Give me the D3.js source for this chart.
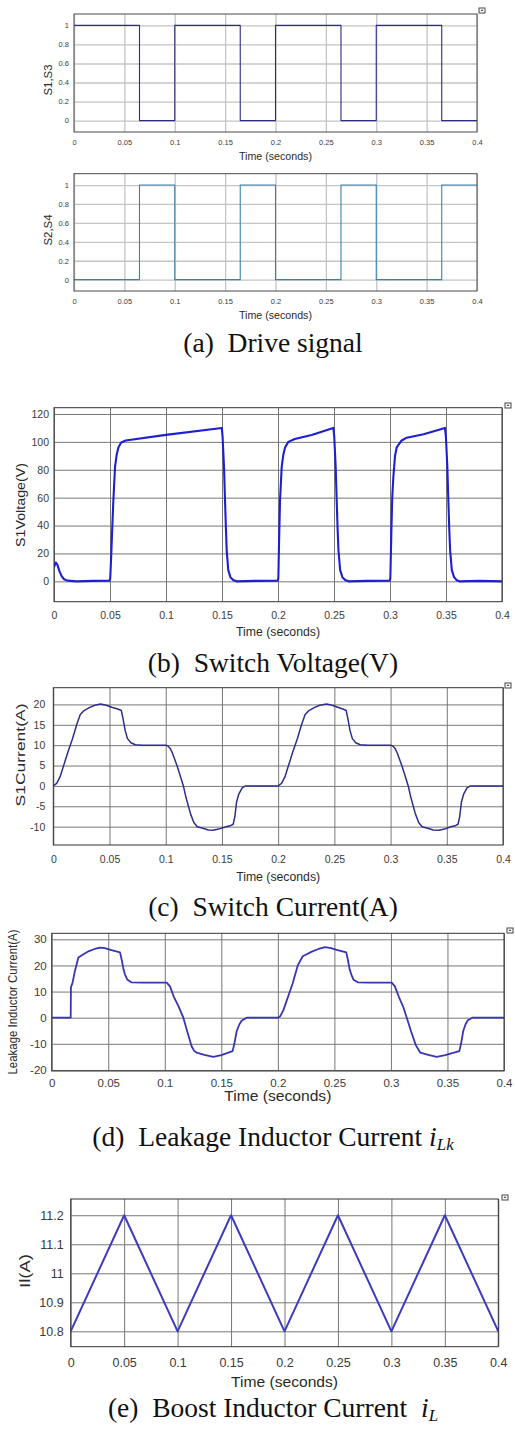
<!DOCTYPE html>
<html>
<head>
<meta charset="utf-8">
<script src="https://cdn.jsdelivr.net/npm/d3@7"></script>
<style>
  body { margin: 0; background: #fff; }
  svg { display: block; }
  .cap { font-family: "Liberation Serif", "Times New Roman", serif; white-space: pre; fill: #111; }
  .lab { font-family: "Liberation Sans", Arial, sans-serif; fill: #2a2a2a; }
</style>
</head>
<body>
<div id="chart"></div>
<script>
// ---------------------------------------------------------------
// data
// ---------------------------------------------------------------
// time axis, shared by every panel
var timeTicks = [0, 0.05, 0.1, 0.15, 0.2, 0.25, 0.3, 0.35, 0.4];

// (a) drive signals, step after each time
var driveTicks = [0, 0.2, 0.4, 0.6, 0.8, 1];
var driveT = [0, 0.065, 0.1, 0.165, 0.2, 0.265, 0.3, 0.365, 0.4];
var s13 = [1, 0, 1, 0, 1, 0, 1, 0, 0];
var s24 = [0, 1, 0, 1, 0, 1, 0, 1, 1];

// (b) switch voltage
var voltTicks = [0, 20, 40, 60, 80, 100, 120];
var voltT = [0, 0.0015, 0.003, 0.005, 0.007, 0.009, 0.012, 0.02, 0.035, 0.0495,
  0.0502, 0.051, 0.052, 0.053, 0.0545, 0.056, 0.0575, 0.06, 0.064, 0.1, 0.1498,
  0.1505, 0.1518, 0.1527, 0.1535, 0.1542, 0.1556, 0.1575, 0.16, 0.163, 0.18, 0.1997,
  0.2003, 0.201, 0.2018, 0.2033, 0.2048, 0.2063, 0.2092, 0.215, 0.23, 0.2494,
  0.2502, 0.2515, 0.2524, 0.2532, 0.254, 0.2555, 0.2575, 0.26, 0.263, 0.28, 0.2997,
  0.3003, 0.3012, 0.302, 0.303, 0.3045, 0.306, 0.3104, 0.315, 0.33, 0.3491,
  0.3499, 0.3512, 0.3521, 0.3529, 0.3537, 0.3552, 0.3572, 0.3596, 0.362, 0.38, 0.4];
var voltV = [10, 13.5, 12, 7, 3.5, 1.5, 0.5, 0, 0.3, 0.5,
  2, 17, 38, 58, 82, 91, 96, 99.5, 101, 105, 110,
  104, 82, 58, 38, 22, 8, 3, 1, 0, 0.3, 0.5,
  2, 30, 58, 82, 91, 96, 100, 102, 105, 110,
  104, 82, 58, 38, 22, 8, 3, 1, 0, 0.3, 0.5,
  2, 35, 60, 75, 90, 96, 101, 103, 105.5, 110,
  104, 82, 58, 38, 22, 8, 3, 0.8, 0, 0.3, 0];

// (c) switch current
var curTicks = [-10, -5, 0, 5, 10, 15, 20];
var curT = [0, 0.003, 0.006, 0.009, 0.013, 0.017, 0.021, 0.024, 0.027, 0.032, 0.037,
  0.042, 0.047, 0.052, 0.058, 0.0605, 0.062, 0.064, 0.066, 0.069, 0.073, 0.08, 0.1,
  0.102, 0.104, 0.106, 0.11, 0.114, 0.1157, 0.118, 0.122, 0.125, 0.128, 0.133, 0.138,
  0.142, 0.147, 0.153, 0.158, 0.16, 0.1615, 0.163, 0.165, 0.168, 0.171, 0.2,
  0.203, 0.206, 0.209, 0.213, 0.217, 0.221, 0.224, 0.227, 0.232, 0.237,
  0.243, 0.248, 0.253, 0.258, 0.2605, 0.262, 0.264, 0.266, 0.269, 0.273, 0.28, 0.3,
  0.302, 0.304, 0.306, 0.31, 0.314, 0.3157, 0.318, 0.322, 0.325, 0.328, 0.333, 0.338,
  0.343, 0.348, 0.353, 0.358, 0.36, 0.3615, 0.363, 0.365, 0.368, 0.371, 0.4];
var curV = [0, 0.6, 2.2, 4.8, 8.3, 11.5, 15.2, 17.5, 18.4, 19.2, 19.8,
  20.1, 19.8, 19.3, 18.8, 18.5, 16.5, 13.5, 11.6, 10.6, 10.1, 10, 10,
  9.8, 9.2, 8, 5, 1.5, 0, -2.8, -6.8, -9, -10, -10.4, -10.8,
  -10.9, -10.6, -10.1, -9.7, -9.4, -7.5, -4, -2, -0.5, 0, 0,
  0.6, 2.2, 4.8, 8.3, 11.5, 15.2, 17.5, 18.4, 19.2, 19.8,
  20.1, 19.8, 19.3, 18.8, 18.5, 16.5, 13.5, 11.6, 10.6, 10.1, 10, 10,
  9.8, 9.2, 8, 5, 1.5, 0, -2.8, -6.8, -9, -10, -10.4, -10.8,
  -10.9, -10.6, -10.1, -9.7, -9.4, -7.5, -4, -2, -0.5, 0, 0];

// (d) leakage inductor current
var lkTicks = [-20, -10, 0, 10, 20, 30];
var lkT = [0, 0.0168, 0.017, 0.0185, 0.0206, 0.0236, 0.028, 0.033, 0.038, 0.0427,
  0.047, 0.052, 0.0604, 0.062, 0.0635, 0.0648, 0.067, 0.0707, 0.08, 0.1017,
  0.1046, 0.108, 0.112, 0.1164, 0.12, 0.1238, 0.126, 0.1282, 0.135, 0.1429,
  0.15, 0.1555, 0.16, 0.1615, 0.1636, 0.166, 0.168, 0.1724, 0.2,
  0.202, 0.205, 0.209, 0.213, 0.2176, 0.222, 0.2255, 0.23, 0.236, 0.2417,
  0.247, 0.252, 0.2605, 0.262, 0.2635, 0.265, 0.267, 0.271, 0.28, 0.3007,
  0.3035, 0.307, 0.311, 0.314, 0.318, 0.322, 0.326, 0.333, 0.3405,
  0.348, 0.355, 0.3605, 0.362, 0.364, 0.366, 0.368, 0.372, 0.4];
var lkV = [0, 0, 11.6, 13.5, 18, 23, 24.3, 25.5, 26.3, 26.8,
  26.6, 26, 25, 22, 18.5, 16.5, 14.5, 13.5, 13.4, 13.4,
  12, 8, 4.5, 0, -5.5, -11, -12.7, -13.4, -14.2, -15,
  -14.3, -13.5, -12.8, -10, -5.2, -2.5, -1.2, 0, 0,
  0.5, 3, 8, 13, 20, 23.5, 24.3, 25.3, 26.3, 27,
  26.6, 26, 25, 22, 18.5, 16.5, 14.5, 13.5, 13.4, 13.4,
  12, 8, 4, 0, -5.5, -10.5, -13.4, -14.2, -15,
  -14.3, -13.5, -12.8, -10, -5, -2.5, -1, 0, 0];

// (e) boost inductor current
var ilTicks = [10.8, 10.9, 11, 11.1, 11.2];
var ilT = [0, 0.05, 0.1, 0.15, 0.2, 0.25, 0.3, 0.35, 0.4];
var ilV = [10.8, 11.2, 10.8, 11.2, 10.8, 11.2, 10.8, 11.2, 10.8];

// captions
var captionMain = ["(a)  Drive signal", "(b)  Switch Voltage(V)", "(c)  Switch Current(A)",
  "(d)  Leakage Inductor Current ", "(e)  Boost Inductor Current  "];
var captionSub = ["", "", "", "Lk", "L"];

// ---------------------------------------------------------------
// layout of each panel (pixels)
// ---------------------------------------------------------------
var panels = [
  { l: 74, t: 14, r: 477, b: 132, yDomain: [-0.12, 1.12], yTicks: driveTicks, xs: driveT, ys: s13, step: true,
    color: "#2c2d82", lw: 1.1, grid: "#c4c4c4", gridW: 1.3, border: "#4a4a4a",
    tick: 7.5, yPad: 5, xBase: 145,
    xLab: { size: 10.5, len: 73, base: 159.5 }, yLab: { text: "S1,S3", size: 10, len: 31, x: 48, y: 80 },
    icon: [479, 8] },
  { l: 74, t: 173.7, r: 477, b: 291, yDomain: [-0.12, 1.12], yTicks: driveTicks, xs: driveT, ys: s24, step: true,
    color: "#3a82ad", lw: 1.1, grid: "#c4c4c4", gridW: 1.3, border: "#4a4a4a",
    tick: 7.5, yPad: 5, xBase: 304,
    xLab: { size: 10.5, len: 73, base: 318.5 }, yLab: { text: "S2,S4", size: 10, len: 31, x: 48, y: 230 },
    icon: null },
  { l: 54, t: 407.7, r: 502, b: 601.7, yDomain: [-14.6, 124.5], yTicks: voltTicks, xs: voltT, ys: voltV, step: false,
    color: "#1e1ed2", lw: 2.1, grid: "#777", gridW: 1, border: "#333",
    tick: 10.5, yPad: 5, xBase: 619,
    xLab: { size: 12, len: 84, base: 636 }, yLab: { text: "S1Voltage(V)", size: 13, len: 84, x: 20, y: 505 },
    icon: [505, 403] },
  { l: 53.3, t: 687.7, r: 503, b: 845, yDomain: [-14.5, 24.1], yTicks: curTicks, xs: curT, ys: curV, step: false,
    color: "#2e2e8e", lw: 1.5, grid: "#777", gridW: 1, border: "#333",
    tick: 10.5, yPad: 8, xBase: 863,
    xLab: { size: 12, len: 84, base: 881 }, yLab: { text: "S1Current(A)", size: 12.5, len: 103, x: 21, y: 755 },
    icon: [505, 683] },
  { l: 51.7, t: 933.3, r: 504, b: 1071, yDomain: [-20.4, 32.3], yTicks: lkTicks, xs: lkT, ys: lkV, step: false,
    color: "#3535b6", lw: 1.8, grid: "#777", gridW: 1, border: "#333",
    tick: 11.5, yPad: 5, xBase: 1086.5,
    xLab: { size: 14, len: 107, base: 1101 }, yLab: { text: "Leakage Inductor Current(A)", size: 12, len: 145, x: 13, y: 1002 },
    icon: [507, 928] },
  { l: 70.7, t: 1199, r: 498.3, b: 1346.7, yDomain: [10.747, 11.256], yTicks: ilTicks, xs: ilT, ys: ilV, step: false,
    color: "#3b3bc4", lw: 2, grid: "#777", gridW: 1, border: "#333",
    tick: 12.5, yPad: 7, xBase: 1367,
    xLab: { size: 15.5, len: 107, base: 1387 }, yLab: { text: "Il(A)", size: 15, len: 34, x: 25, y: 1271 },
    icon: [502, 1195] }
];

var captionPos = [352, 672, 916, 1146, 1417];

var svgWidth = 515;
var svgHeight = 1429;

var svg = d3.select("#chart")
  .append("svg")
  .attr("width", svgWidth)
  .attr("height", svgHeight);

function drawPanel(p, i) {
  var x = d3.scaleLinear().domain([0, 0.4]).range([p.l, p.r]);
  var y = d3.scaleLinear().domain(p.yDomain).range([p.b, p.t]);
  var g = svg.append("g");

  // vertical grid lines + time labels
  var xAxis = g.append("g")
    .attr("transform", `translate(0,${p.b})`)
    .call(d3.axisBottom(x).tickValues(timeTicks).tickSize(-(p.b - p.t)).tickFormat(d => String(d)));
  xAxis.select(".domain").remove();
  xAxis.attr("font-family", "'Liberation Sans', Arial, sans-serif").attr("font-size", p.tick);
  xAxis.selectAll("line").attr("stroke", p.grid).attr("stroke-width", p.gridW);
  xAxis.selectAll("text").attr("y", p.xBase - p.b).attr("dy", null).attr("fill", "#3a3a3a");

  // horizontal grid lines + value labels
  var yAxis = g.append("g")
    .attr("transform", `translate(${p.l},0)`)
    .call(d3.axisLeft(y).tickValues(p.yTicks).tickSize(-(p.r - p.l)).tickPadding(p.yPad).tickFormat(d => String(d)));
  yAxis.select(".domain").remove();
  yAxis.attr("font-family", "'Liberation Sans', Arial, sans-serif").attr("font-size", p.tick);
  yAxis.selectAll("line").attr("stroke", p.grid).attr("stroke-width", p.gridW);
  yAxis.selectAll("text").attr("fill", "#3a3a3a");

  // signal
  svg.append("clipPath").attr("id", "clip" + i)
    .append("rect")
    .attr("x", p.l).attr("y", p.t)
    .attr("width", p.r - p.l).attr("height", p.b - p.t);

  var line = d3.line()
    .x(d => x(d[0]))
    .y(d => y(d[1]))
    .curve(p.step ? d3.curveStepAfter : d3.curveLinear);

  g.append("path")
    .datum(d3.zip(p.xs, p.ys))
    .attr("clip-path", `url(#clip${i})`)
    .attr("fill", "none")
    .attr("stroke", p.color)
    .attr("stroke-width", p.lw)
    .attr("stroke-linejoin", "round")
    .attr("d", line);

  // axes box
  g.append("rect")
    .attr("x", p.l).attr("y", p.t)
    .attr("width", p.r - p.l).attr("height", p.b - p.t)
    .attr("fill", "none")
    .attr("stroke", p.border)
    .attr("stroke-width", 1);

  // labels
  g.append("text")
    .attr("class", "lab")
    .attr("x", (p.l + p.r) / 2)
    .attr("y", p.xLab.base)
    .attr("text-anchor", "middle")
    .attr("font-size", p.xLab.size)
    .attr("textLength", p.xLab.len)
    .attr("lengthAdjust", "spacingAndGlyphs")
    .text("Time (seconds)");

  g.append("text")
    .attr("class", "lab")
    .attr("transform", `translate(${p.yLab.x},${p.yLab.y}) rotate(-90)`)
    .attr("text-anchor", "middle")
    .attr("dy", "0.35em")
    .attr("font-size", p.yLab.size)
    .attr("textLength", p.yLab.len)
    .attr("lengthAdjust", "spacingAndGlyphs")
    .text(p.yLab.text);

  // little figure-window glyph in the corner
  if (p.icon) {
    var ic = g.append("g").attr("transform", `translate(${p.icon[0]},${p.icon[1]})`);
    ic.append("rect").attr("width", 6).attr("height", 5)
      .attr("fill", "#fff").attr("stroke", "#444").attr("stroke-width", 1);
    ic.append("path").attr("d", "M1.5,3 L3,1.2 L4.5,3 Z").attr("fill", "#444");
  }
}

panels.forEach(drawPanel);

// captions
captionMain.forEach(function(txt, i) {
  var t = svg.append("text")
    .attr("class", "cap")
    .attr("x", 273)
    .attr("y", captionPos[i])
    .attr("text-anchor", "middle")
    .attr("font-size", 27.5);
  t.append("tspan").text(txt);
  if (captionSub[i]) {
    t.append("tspan").attr("font-style", "italic").text("i");
    t.append("tspan").attr("font-style", "italic").attr("font-size", 17).attr("dy", 4).text(captionSub[i]);
  }
});
</script>
</body>
</html>
